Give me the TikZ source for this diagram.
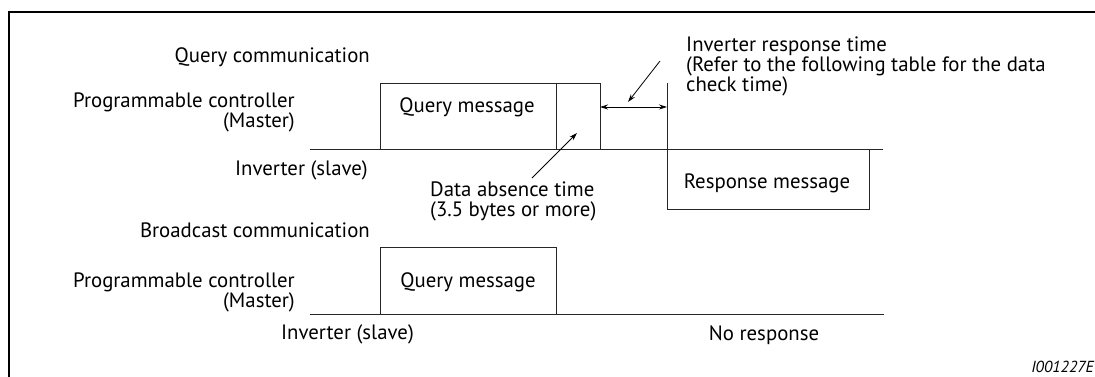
\documentclass[tikz,border=0pt]{standalone}
\usepackage{fontspec}
\setmainfont{PT Sans}
\usetikzlibrary{positioning,arrows.meta}

\begin{document}
\begin{tikzpicture}[x=1pt,y=-1pt,
  txt/.style={inner sep=0pt,font=\fontsize{20.8}{20}\selectfont},
  msg/.style={draw=black!85,line width=1pt,inner sep=0pt,outer sep=0pt,anchor=north west},
  tl/.style={draw=black!85,line width=1pt},
  tip/.style={-{Stealth[length=8pt,width=5pt]},line width=0.8pt},
  dim/.style={{Stealth[length=8pt,width=5pt]}-{Stealth[length=8pt,width=5pt]},line width=0.8pt}]
  \useasboundingbox (0,0) rectangle (1095,376);
  \clip (0,0) rectangle (1095,376);
  %% frame, runs out at the right and at the bottom
  \draw[line width=2pt] (9,400) -- (9,12) -- (1110,12);

  %% Query communication
  \node[txt,anchor=base east] (qhead) at (370,62.7) {Query communication};
  \node[txt,anchor=base east,align=right] (qplc) at (295,127) {Programmable controller\\(Master)};
  \node[txt,anchor=base east] (qinv) at (368,175) {Inverter (slave)};
  \coordinate (qstart) at (310,149);
  \coordinate (qend) at (883,149);
  \draw[tl] (qstart) -- (qend);
  \node[msg,minimum width=176,minimum height=66] (qmsg) at (380,83) {};
  \node[msg,minimum width=44,minimum height=66] (qgap) at (556,83) {};
  \node[msg,minimum width=202,minimum height=60] (rmsg) at (667,149) {};
  \node[txt,anchor=base] (qmsgtxt) at (467,112) {Query message};
  \node[txt,anchor=base] (rmsgtxt) at (767,188) {Response message};
  \coordinate (rtop) at (667,83);
  \draw[tl] (rtop) -- (rmsg.north west);
  %% response time
  \draw[dim] ([yshift=-24pt]qgap.north east) -- ([yshift=-24pt]rtop);
  \node[txt,anchor=base west,align=left] (rtime) at (686,91.7)
    {Inverter response time\\(Refer to the following table for the data\\check time)};
  \coordinate (rlead) at (660,61);
  \coordinate (rhit) at (628,102);
  \draw[tip] (rlead) -- (rhit);
  %% data absence
  \node[txt,anchor=base west,align=left] (dabs) at (430,216)
    {Data absence time\\(3.5 bytes or more)};
  \coordinate (dlead) at (532,178);
  \coordinate (dhit) at (577,133);
  \draw[tip] (dlead) -- (dhit);

  %% Broadcast communication
  \node[txt,anchor=base east] (bhead) at (370,237) {Broadcast communication};
  \node[txt,anchor=base east,align=right] (bplc) at (295,307) {Programmable controller\\(Master)};
  \node[txt,anchor=base east] (binv) at (414,339) {Inverter (slave)};
  \coordinate (bstart) at (310,314);
  \coordinate (bend) at (884,314);
  \draw[tl] (bstart) -- (bend);
  \node[msg,minimum width=176,minimum height=67] (bmsg) at (380,247) {};
  \node[txt,anchor=base] (bmsgtxt) at (468,287) {Query message};
  \node[txt,anchor=base] (nores) at (764,340) {No response};

  \node[inner sep=0pt,anchor=base east,font=\fontsize{16}{16}\selectfont\itshape] (figid) at (1094,372) {I001227E};
\end{tikzpicture}
\end{document}
